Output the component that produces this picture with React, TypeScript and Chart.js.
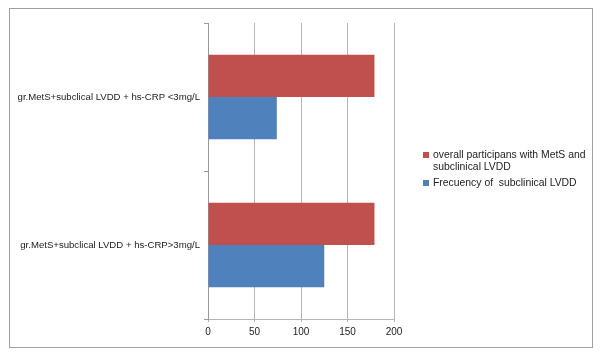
import React, { useEffect, useRef } from "react";
import { Chart, registerables } from "chart.js";

Chart.register(...registerables);

const categories = [
  "gr.MetS+subclical LVDD + hs-CRP <3mg/L",
  "gr.MetS+subclical LVDD + hs-CRP>3mg/L",
];
const overallLabel = ["overall participans with MetS and", "subclinical LVDD"];
const frequencyLabel = "Frecuency of  subclinical LVDD";
const overallValues = [179, 179];
const frequencyValues = [74, 125];
const xTicks = [0, 50, 100, 150, 200];

const RED = "#C0504D";
const BLUE = "#4F81BD";
const FONT = "'Liberation Sans', Arial, sans-serif";

export default function App() {
  const ref = useRef<HTMLCanvasElement | null>(null);

  useEffect(() => {
    document.body.style.margin = "0";
    const canvas = ref.current;
    if (!canvas) return;
    const chart = new Chart(canvas, {
      type: "bar",
      data: {
        labels: categories,
        datasets: [
          {
            label: overallLabel.join(" "),
            data: overallValues,
            backgroundColor: RED,
            categoryPercentage: 0.57,
            barPercentage: 1,
          },
          {
            label: frequencyLabel,
            data: frequencyValues,
            backgroundColor: BLUE,
            categoryPercentage: 0.57,
            barPercentage: 1,
          },
        ],
      },
      options: {
        indexAxis: "y",
        animation: false,
        responsive: false,
        maintainAspectRatio: false,
        layout: { padding: { top: 23, right: 206, left: 0, bottom: 0 } },
        plugins: {
          legend: { display: false },
          tooltip: { enabled: false },
        },
        scales: {
          x: {
            min: xTicks[0],
            max: xTicks[xTicks.length - 1],
            afterBuildTicks: (scale: any) => {
              scale.ticks = xTicks.map((v) => ({ value: v }));
            },
            afterFit: (scale: any) => {
              scale.height = 35;
            },
            grid: {
              color: "#b5b5b5",
              lineWidth: 1,
              tickLength: 3,
            },
            border: { color: "#b5b5b5" },
            ticks: {
              color: "#222",
              font: { family: FONT, size: 10 },
              padding: 4,
              maxRotation: 0,
            },
          },
          y: {
            afterFit: (scale: any) => {
              scale.width = 208;
            },
            grid: {
              drawOnChartArea: false,
              offset: true,
              tickLength: 4,
              color: "#999",
            },
            border: { color: "#999" },
            ticks: {
              color: "#222",
              font: { family: FONT, size: 9.6 },
              padding: 4,
            },
          },
        },
      },
    });
    return () => chart.destroy();
  }, []);

  const legendText: React.CSSProperties = {
    fontFamily: FONT,
    fontSize: 10.4,
    color: "#222",
    lineHeight: "12px",
  };
  const swatch = (c: string): React.CSSProperties => ({
    position: "absolute",
    left: 0,
    top: 3,
    width: 6,
    height: 6,
    background: c,
  });

  return (
    <div style={{ position: "relative", width: 600, height: 354, background: "#fff" }}>
      <div
        style={{
          position: "absolute",
          left: 9,
          top: 8,
          width: 584,
          height: 340,
          border: "1px solid #a0a0a0",
          boxSizing: "border-box",
        }}
      />
      <canvas
        ref={ref}
        width={600}
        height={354}
        style={{ position: "absolute", left: 0, top: 0, width: 600, height: 354 }}
      />
      <div style={{ position: "absolute", left: 423, top: 149 }}>
        <div style={{ position: "relative", paddingLeft: 10, ...legendText }}>
          <span style={swatch(RED)} />
          <div>{overallLabel[0]}</div>
          <div>{overallLabel[1]}</div>
        </div>
        <div style={{ position: "relative", paddingLeft: 10, marginTop: 4, ...legendText }}>
          <span style={swatch(BLUE)} />
          <div style={{ whiteSpace: "pre" }}>{frequencyLabel}</div>
        </div>
      </div>
    </div>
  );
}
